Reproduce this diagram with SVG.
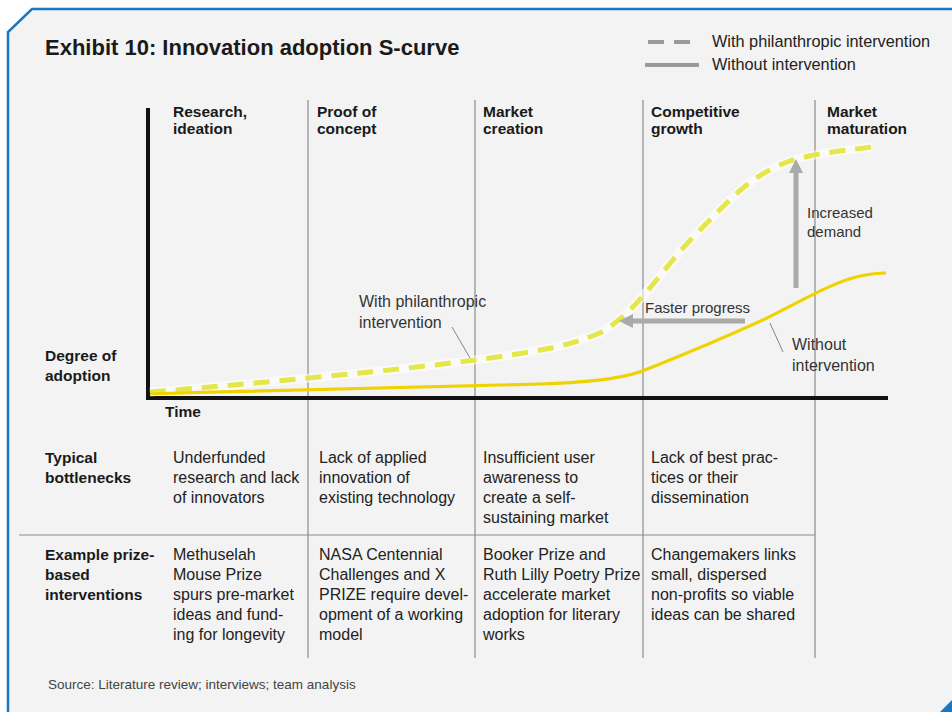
<svg xmlns="http://www.w3.org/2000/svg" width="952" height="712" viewBox="0 0 952 712">
<style>
text{font-family:"Liberation Sans",Arial,sans-serif;fill:#222}
.h{font-weight:bold;font-size:15.5px;fill:#1a1a1a}
.t{font-size:16px}
.lg{font-size:16.3px}
.s{font-size:15px;fill:#333}
.w{font-size:16px;fill:#333}
.div{stroke:#8c8c8c;stroke-width:1.2;fill:none}
.arr{stroke:#aaaaaa;stroke-width:5;fill:none}
.ah{fill:#aaaaaa}
</style>
<rect width="952" height="712" fill="#ffffff"/>
<polygon points="32,9 952,9 952,712 8,712 8,32" fill="#f3f3f3"/>
<polyline points="952,9 32,9 8,32 8,712" fill="none" stroke="#1a78c2" stroke-width="2.5"/>
<polygon points="952,700 952,712 940,712" fill="#1a78c2"/>

<g id="title"><text x="45" y="55" style="font-weight:bold;font-size:22px;fill:#1a1a1a">Exhibit 10: Innovation adoption S-curve</text></g>

<g id="legend">
<line x1="648" y1="42" x2="700" y2="42" stroke="#9a9a9a" stroke-width="4" stroke-dasharray="16,10"/>
<line x1="645" y1="65" x2="699" y2="65" stroke="#9a9a9a" stroke-width="4"/>
<text class="lg" x="712" y="47">With philanthropic intervention</text>
<text class="lg" x="712" y="70">Without intervention</text>
</g>

<g id="grid">
<line class="div" x1="308" y1="100" x2="308" y2="658"/>
<line class="div" x1="475" y1="100" x2="475" y2="658"/>
<line class="div" x1="643" y1="100" x2="643" y2="658"/>
<line class="div" x1="815" y1="100" x2="815" y2="658"/>
<line class="div" x1="19" y1="535" x2="815" y2="535"/>
</g>

<g id="stages">
<text class="h" x="173" y="117">Research,</text><text class="h" x="173" y="134">ideation</text>
<text class="h" x="317" y="117">Proof of</text><text class="h" x="317" y="134">concept</text>
<text class="h" x="483" y="117">Market</text><text class="h" x="483" y="134">creation</text>
<text class="h" x="651" y="117">Competitive</text><text class="h" x="651" y="134">growth</text>
<text class="h" x="827" y="117">Market</text><text class="h" x="827" y="134">maturation</text>
</g>

<g id="axes">
<line x1="148" y1="108" x2="148" y2="400" stroke="#111" stroke-width="4"/>
<line x1="146" y1="398" x2="888" y2="398" stroke="#111" stroke-width="4"/>
<text class="h" x="45" y="361">Degree of</text>
<text class="h" x="45" y="381">adoption</text>
<text class="h" x="165" y="417">Time</text>
</g>

<g id="curves">
<path d="M150,392 C260,383 400,370 475,360 S570,345 600,333 C640,310 660,270 700,230 C730,200 750,175 790,161 C820,152 850,150 872,147" fill="none" stroke="#ffffff" stroke-width="9" stroke-opacity="0.6"/>
<path d="M150,392 C260,383 400,370 475,360 S570,345 600,333 C640,310 660,270 700,230 C730,200 750,175 790,161 C820,152 850,150 872,147" fill="none" stroke="#e4e64a" stroke-width="5" stroke-dasharray="16,10"/>
<path d="M150,394 C300,389 460,387 540,384 C600,382 630,377 650,368 C690,352 730,335 765,319 C800,302 830,283 860,276 C870,274 880,273 886,273" fill="none" stroke="#efd200" stroke-width="3.2"/>
</g>

<g id="connectors">
<line x1="452" y1="327" x2="470" y2="358" stroke="#777" stroke-width="0.9"/>
<line x1="770" y1="323" x2="783" y2="352" stroke="#777" stroke-width="0.9"/>
<line class="arr" x1="796" y1="288" x2="796" y2="172"/>
<polygon class="ah" points="789,173 803,173 796,159"/>
<line class="arr" x1="745" y1="321" x2="632" y2="321"/>
<polygon class="ah" points="633,314 633,328 619,321"/>
</g>

<g id="annotations">
<text class="w" x="359" y="307">With philanthropic</text>
<text class="w" x="359" y="328">intervention</text>
<text class="s" x="645" y="313">Faster progress</text>
<text class="s" x="807" y="218">Increased</text>
<text class="s" x="807" y="237">demand</text>
<text class="w" x="792" y="350">Without</text>
<text class="w" x="792" y="371">intervention</text>
</g>

<g id="bottlenecks">
<text class="h" x="45" y="463">Typical</text><text class="h" x="45" y="483">bottlenecks</text>
<text class="t" x="173" y="463">Underfunded</text><text class="t" x="173" y="483">research and lack</text><text class="t" x="173" y="503">of innovators</text>
<text class="t" x="319" y="463">Lack of applied</text><text class="t" x="319" y="483">innovation of</text><text class="t" x="319" y="503">existing technology</text>
<text class="t" x="483" y="463">Insufficient user</text><text class="t" x="483" y="483">awareness to</text><text class="t" x="483" y="503">create a self-</text><text class="t" x="483" y="523">sustaining market</text>
<text class="t" x="651" y="463">Lack of best prac-</text><text class="t" x="651" y="483">tices or their</text><text class="t" x="651" y="503">dissemination</text>
</g>

<g id="interventions">
<text class="h" x="45" y="560">Example prize-</text><text class="h" x="45" y="580">based</text><text class="h" x="45" y="600">interventions</text>
<text class="t" x="173" y="560">Methuselah</text><text class="t" x="173" y="580">Mouse Prize</text><text class="t" x="173" y="600">spurs pre-market</text><text class="t" x="173" y="620">ideas and fund-</text><text class="t" x="173" y="640">ing for longevity</text>
<text class="t" x="319" y="560">NASA Centennial</text><text class="t" x="319" y="580">Challenges and X</text><text class="t" x="319" y="600">PRIZE require devel-</text><text class="t" x="319" y="620">opment of a working</text><text class="t" x="319" y="640">model</text>
<text class="t" x="483" y="560">Booker Prize and</text><text class="t" x="483" y="580">Ruth Lilly Poetry Prize</text><text class="t" x="483" y="600">accelerate market</text><text class="t" x="483" y="620">adoption for literary</text><text class="t" x="483" y="640">works</text>
<text class="t" x="651" y="560">Changemakers links</text><text class="t" x="651" y="580">small, dispersed</text><text class="t" x="651" y="600">non-profits so viable</text><text class="t" x="651" y="620">ideas can be shared</text>
</g>

<g id="source"><text x="48" y="689" style="font-size:13.5px;fill:#444">Source: Literature review; interviews; team analysis</text></g>
</svg>
